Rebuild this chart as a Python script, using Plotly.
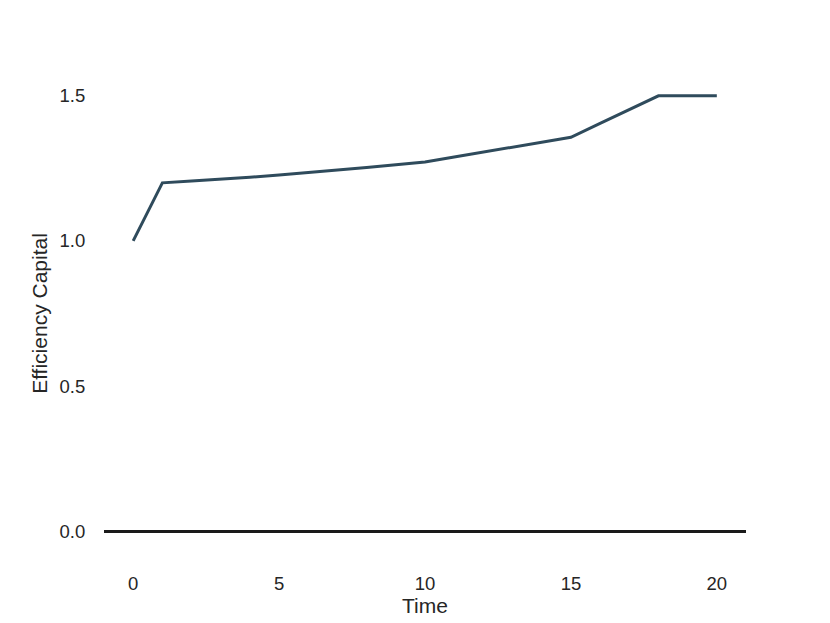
import plotly.graph_objects as go

time = list(range(21))
efficiency_capital = [1.0, 1.2, 1.206, 1.212, 1.219, 1.227, 1.235, 1.244, 1.253, 1.262,
                      1.272, 1.289, 1.306, 1.323, 1.340, 1.357, 1.405, 1.452, 1.5, 1.5, 1.5]
x_ticks = [0, 5, 10, 15, 20]
y_ticks = [0.0, 0.5, 1.0, 1.5]
y_tick_labels = ["0.0", "0.5", "1.0", "1.5"]

fig = go.Figure()
fig.add_trace(go.Scatter(x=time, y=efficiency_capital, mode="lines",
                         line=dict(color="#2f4b5c", width=3)))

font_family = "Liberation Sans, Arial, sans-serif"
fig.update_layout(
    width=830, height=623,
    margin=dict(l=96, r=92, t=66, b=78),
    paper_bgcolor="white", plot_bgcolor="white",
    showlegend=False,
    font=dict(family=font_family, color="#262626", size=18),
    xaxis=dict(range=[-1, 21], tickvals=x_ticks, showgrid=False, zeroline=False,
               showline=False, ticks="outside", ticklen=14, tickcolor="rgba(0,0,0,0)",
               tickfont=dict(size=18.5),
               title=dict(text="Time", font=dict(size=21), standoff=5)),
    yaxis=dict(range=[-0.075, 1.575], tickvals=y_ticks, ticktext=y_tick_labels,
               showgrid=False, zeroline=True, zerolinecolor="#1a1a1a", zerolinewidth=2.5,
               showline=False, ticks="outside", ticklen=14, tickcolor="rgba(0,0,0,0)",
               tickfont=dict(size=18.5),
               title=dict(text="Efficiency Capital", font=dict(size=21), standoff=6)),
)

fig.write_html("out.html")
